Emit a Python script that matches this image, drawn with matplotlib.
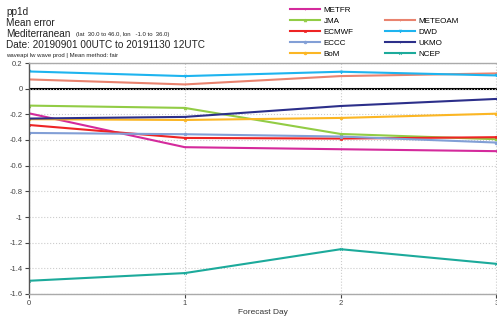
import matplotlib
matplotlib.use('Agg')
import matplotlib.pyplot as plt
from matplotlib.lines import Line2D

plt.rcParams['font.family'] = ['Liberation Sans', 'DejaVu Sans']

days = [0, 1, 2, 3]
metfr = [-0.192, -0.456, -0.472, -0.487]
jma = [-0.132, -0.150, -0.353, -0.394]
ecmwf = [-0.283, -0.384, -0.389, -0.378]
eccc = [-0.345, -0.355, -0.373, -0.420]
bom = [-0.238, -0.244, -0.228, -0.195]
meteoam = [0.072, 0.033, 0.098, 0.119]
dwd = [0.134, 0.098, 0.132, 0.103]
ukmo = [-0.233, -0.220, -0.135, -0.080]
ncep = [-1.497, -1.437, -1.251, -1.365]

series = [
    ('METFR', metfr, '#d42a9c', '+'),
    ('JMA', jma, '#92cc45', '^'),
    ('ECMWF', ecmwf, '#ee2424', 's'),
    ('ECCC', eccc, '#829fd6', 'o'),
    ('BoM', bom, '#fbb624', 'o'),
    ('METEOAM', meteoam, '#e9836f', '+'),
    ('DWD', dwd, '#1eb4ef', 'v'),
    ('UKMO', ukmo, '#2c2f8a', '+'),
    ('NCEP', ncep, '#1caa9b', 'x'),
]

fig = plt.figure(figsize=(4.97, 3.18), dpi=100)
ax = fig.add_axes([29/497, 24/318, 467.5/497, 231/318])

handles = []
for name, vals, col, mk in series:
    h, = ax.plot(days, vals, color=col, lw=1.5, marker=mk, ms=2, mew=0.5, label=name)
    handles.append(h)
ax.axhline(0, color='black', lw=1.5, zorder=1)

ax.set_xlim(0, 3)
ax.set_ylim(-1.6, 0.2)
ax.set_xticks(days)
ax.set_yticks([0.2, 0, -0.2, -0.4, -0.6, -0.8, -1, -1.2, -1.4, -1.6])
ax.set_yticklabels(['0.2', '0', '-0.2', '-0.4', '-0.6', '-0.8', '-1', '-1.2', '-1.4', '-1.6'])
ax.tick_params(labelsize=5.5, colors='#444444', length=3, width=0.8, pad=1.5)
ax.grid(True, color='#cccccc', linestyle=':', lw=0.8)
ax.set_xlabel('Forecast Day', fontsize=6, color='#333333', labelpad=1)
ax.spines['left'].set_color('#555555')
ax.spines['bottom'].set_color('#aaaaaa')
ax.spines['top'].set_color('#aaaaaa')
ax.spines['right'].set_visible(False)
for s in ax.spines.values():
    s.set_linewidth(1)

blank = Line2D([], [], color='none')
leg_handles = handles[:5] + [blank] + handles[5:]
leg_labels = [s[0] for s in series[:5]] + [''] + [s[0] for s in series[5:]]
fig.legend(leg_handles, leg_labels, ncol=2, loc='upper left', bbox_to_anchor=(284/497, 1 - 1/318),
           frameon=False, fontsize=5.8, handlelength=3.8, handletextpad=0.4,
           columnspacing=3.9, labelspacing=0.4, borderpad=0.2)

fig.text(6/497, 1 - 12/318, 'pp1d', fontsize=7.2, va='center', color='#222222')
fig.text(6/497, 1 - 23/318, 'Mean error', fontsize=7.2, va='center', color='#222222')
fig.text(6/497, 1 - 34/318, 'Mediterranean', fontsize=7.2, va='center', color='#222222')
fig.text(76/497, 1 - 34.5/318, '(lat  30.0 to 46.0, lon   -1.0 to  36.0)', fontsize=4.3,
         va='center', color='#222222')
fig.text(6/497, 1 - 45/318, 'Date: 20190901 00UTC to 20191130 12UTC', fontsize=7.2,
         va='center', color='#222222')
fig.text(6/497, 1 - 55/318, 'waveapi lw wave prod | Mean method: fair', fontsize=4.3,
         va='center', color='#222222')

fig.savefig('out.png', dpi=100)
